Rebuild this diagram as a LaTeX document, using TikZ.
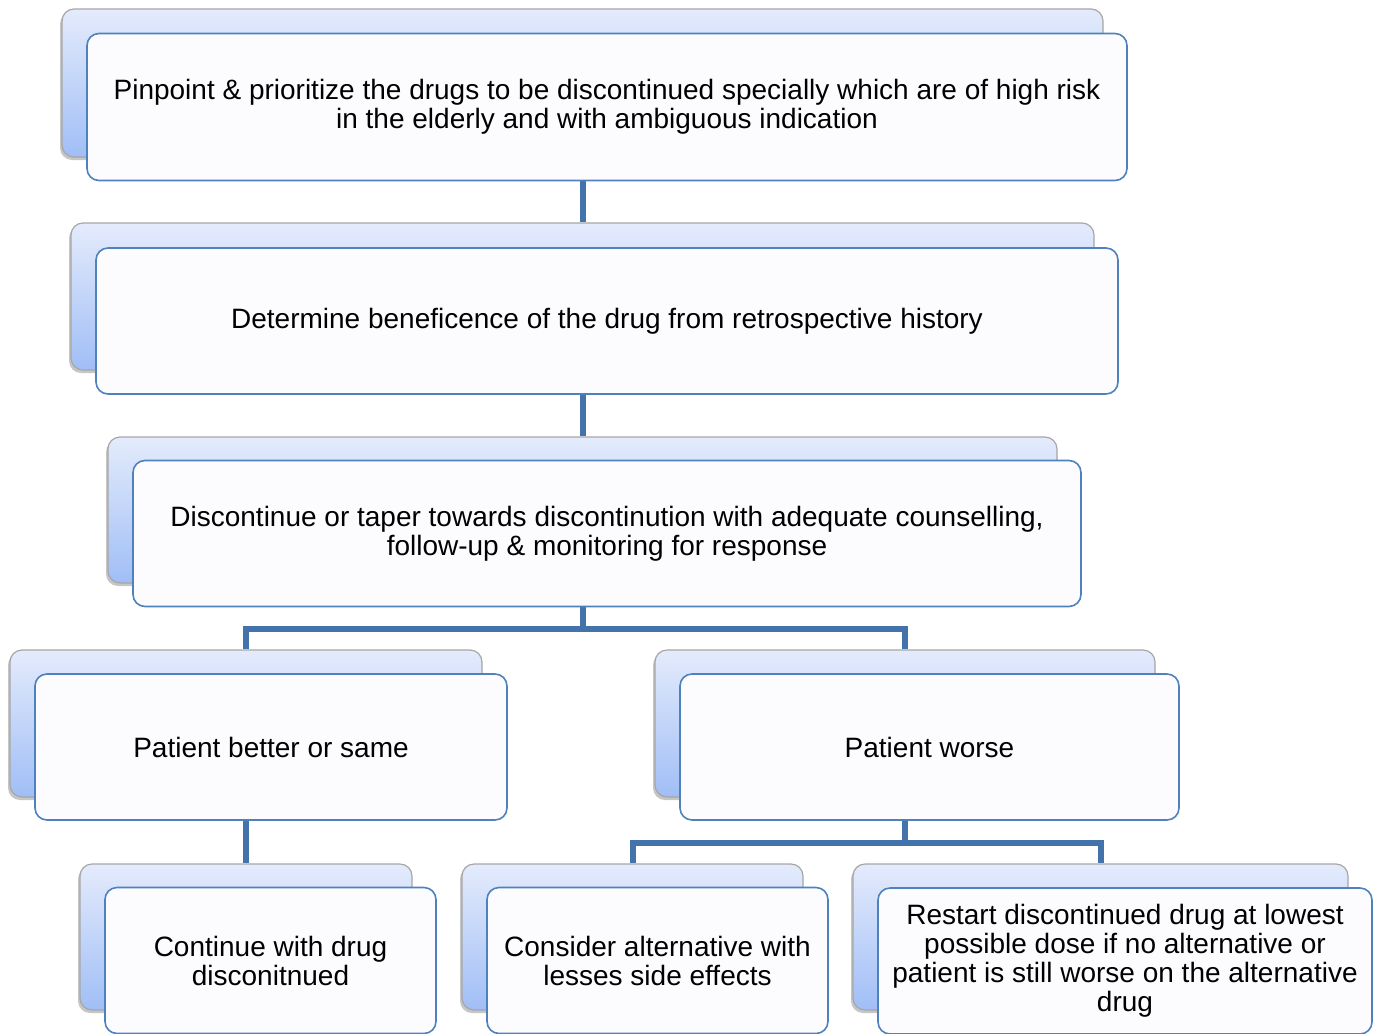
\documentclass[tikz,border=0pt]{standalone}
\usepackage{fontspec}
\setmainfont{Liberation Sans}
\usetikzlibrary{positioning,shadows}

\definecolor{backtop}{RGB}{228,235,252}
\definecolor{backbottom}{RGB}{160,190,246}
\definecolor{frontline}{RGB}{79,129,189}
\definecolor{linkblue}{RGB}{68,114,170}

\begin{document}
\begin{tikzpicture}[x=1pt,y=-1pt,
	back/.style={draw=black!35, line width=1.2pt, rounded corners=12pt, top color=backtop, bottom color=backbottom,
		drop shadow={shadow xshift=-2pt, shadow yshift=-3pt, opacity=.45}, inner sep=0pt},
	front/.style={draw=frontline, line width=1.6pt, rounded corners=12pt, fill=blue!1, inner sep=0pt,
		align=center, font=\fontsize{28}{29}\selectfont},
	link/.style={draw=linkblue, line width=6pt}]
	%\draw[help lines] (0,0) grid[step=50] (1380,1033);
	\useasboundingbox (0,0) rectangle (1380,1033);
	% back boxes
	\node[back, minimum width=1041pt, minimum height=148pt] (pinback) at (582.5,83) {};
	\node[back, minimum width=1023pt, minimum height=147pt] (detback) at (582.5,296.5) {};
	\node[back, minimum width=949pt, minimum height=146pt] (discback) at (582.5,510) {};
	\node[back, minimum width=472pt, minimum height=147pt] (betterback) at (246,723.5) {};
	\node[back, minimum width=500pt, minimum height=147pt] (worseback) at (905,723.5) {};
	\node[back, minimum width=332pt, minimum height=146pt] (contback) at (246,937) {};
	\node[back, minimum width=341pt, minimum height=146pt] (altback) at (632.5,937) {};
	\node[back, minimum width=495pt, minimum height=146pt] (restartback) at (1100.5,937) {};
	% connectors
	\draw[link] (pinback.south) -- (detback.north);
	\draw[link] (detback.south) -- (discback.north);
	\draw[link] (discback.south) -- ++(0,45) -| (betterback.north);
	\draw[link] (discback.south) -- ++(0,45) -| (worseback.north);
	\draw[link] (betterback.south) -- (contback.north);
	\draw[link] (worseback.south) -- ++(0,45) -| (altback.north);
	\draw[link] (worseback.south) -- ++(0,45) -| (restartback.north);
	% front boxes
	\node[front, minimum width=1040pt, minimum height=147pt] (pin) at ([shift={(24.5,24)}]pinback.center)
		{Pinpoint \& prioritize the drugs to be discontinued specially which are of high risk\\in the elderly and with ambiguous indication};
	\node[front, minimum width=1022pt, minimum height=146pt] (det) at ([shift={(24.5,24.5)}]detback.center)
		{Determine beneficence of the drug from retrospective history};
	\node[front, minimum width=948pt, minimum height=146pt] (disc) at ([shift={(24.5,23.5)}]discback.center)
		{Discontinue or taper towards discontinution with adequate counselling,\\follow-up \& monitoring for response};
	\node[front, minimum width=472pt, minimum height=146pt] (better) at ([shift={(25,23.5)}]betterback.center)
		{Patient better or same};
	\node[front, minimum width=499pt, minimum height=146pt] (worse) at ([shift={(24.5,23.5)}]worseback.center)
		{Patient worse};
	\node[front, minimum width=331pt, minimum height=146pt] (cont) at ([shift={(24.5,23.5)}]contback.center)
		{Continue with drug\\disconitnued};
	\node[front, minimum width=341pt, minimum height=146pt] (alt) at ([shift={(25,23.5)}]altback.center)
		{Consider alternative with\\lesses side effects};
	\node[front, minimum width=494pt, minimum height=146pt] (restart) at ([shift={(24.5,24)}]restartback.center)
		{Restart discontinued drug at lowest\\possible dose if no alternative or\\patient is still worse on the alternative\\drug};
\end{tikzpicture}
\end{document}
